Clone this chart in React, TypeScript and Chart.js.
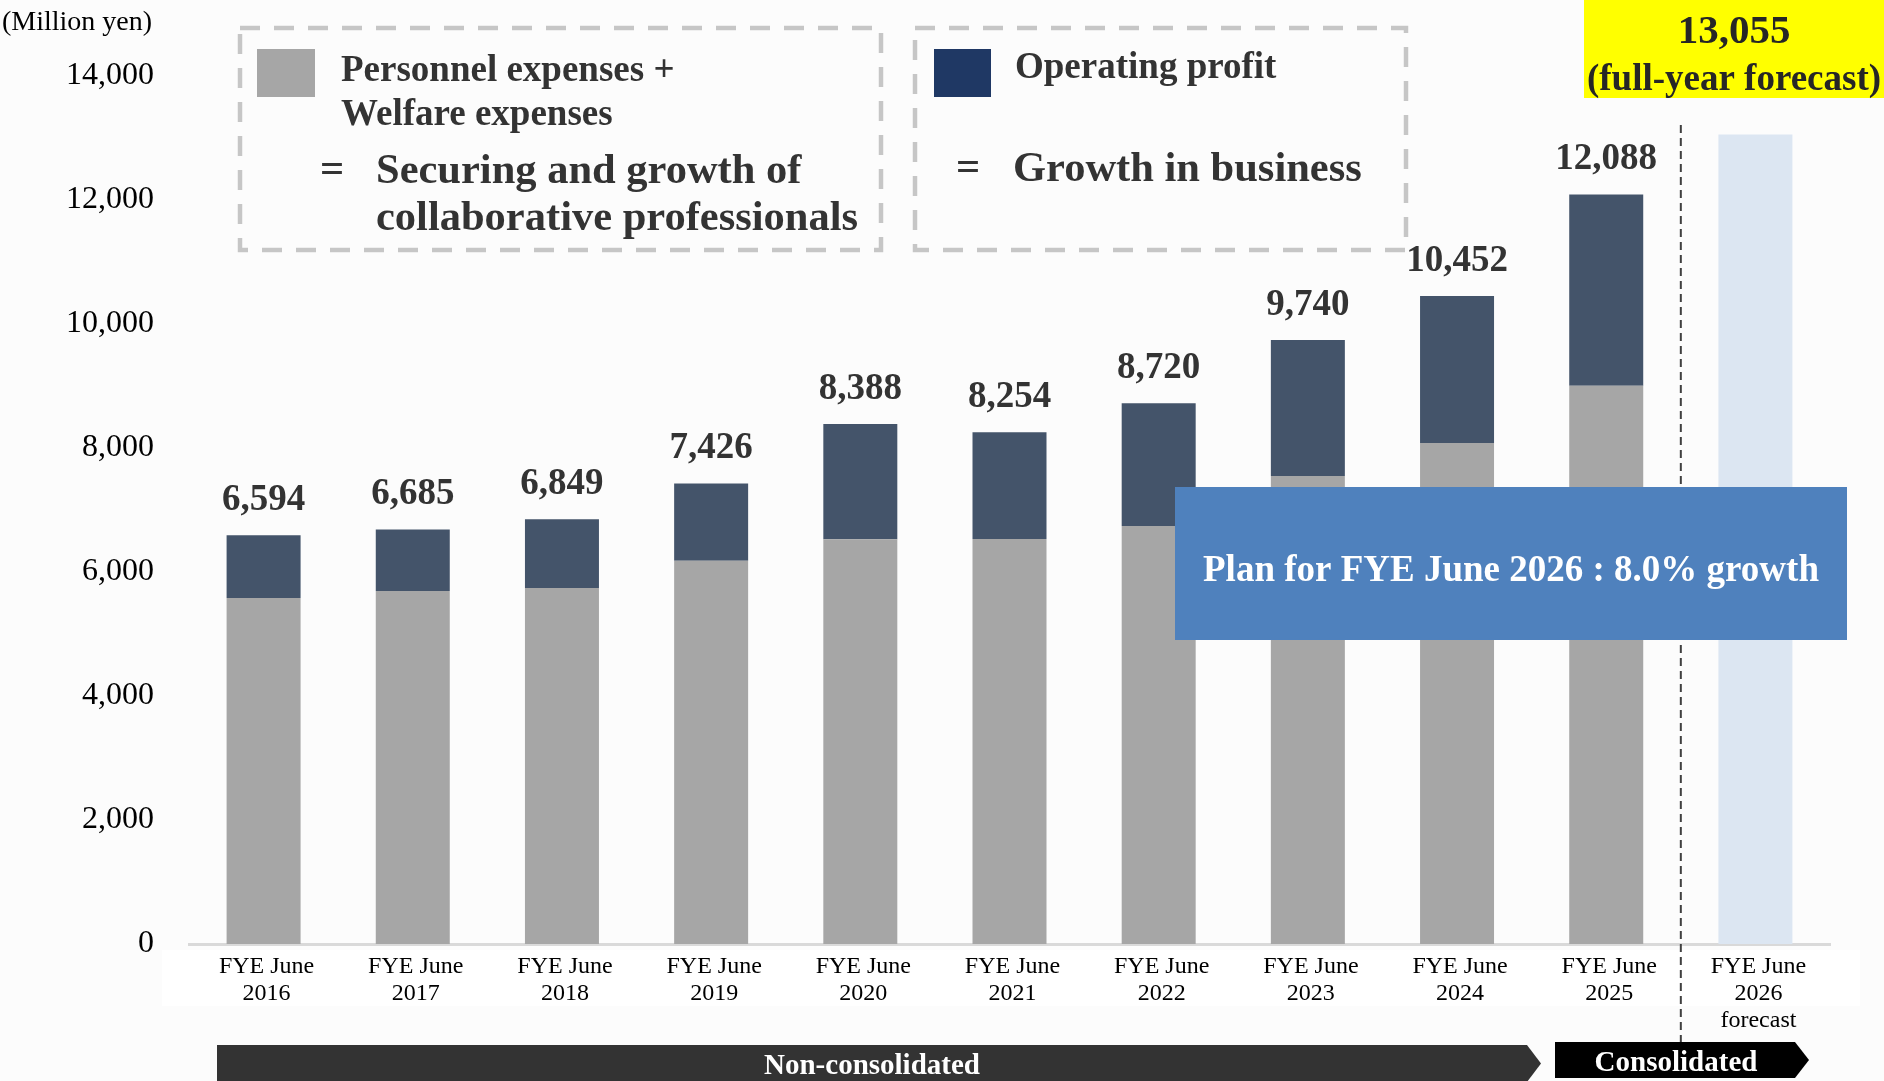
import React, { useEffect, useRef } from 'react';
import { Chart, registerables } from 'chart.js';

Chart.register(...registerables);

const FONT = "'Liberation Serif', 'Times New Roman', Times, serif";

const categories: string[][] = [
  ['FYE June', '2016'],
  ['FYE June', '2017'],
  ['FYE June', '2018'],
  ['FYE June', '2019'],
  ['FYE June', '2020'],
  ['FYE June', '2021'],
  ['FYE June', '2022'],
  ['FYE June', '2023'],
  ['FYE June', '2024'],
  ['FYE June', '2025'],
  ['FYE June', '2026', 'forecast'],
];

const personnelWelfare = [5580, 5694, 5742, 6182, 6527, 6532, 6742, 7548, 8081, 9005, null];
const operatingProfit = [1014, 991, 1107, 1244, 1861, 1722, 1978, 2192, 2371, 3083, null];
const forecastTotal = [null, null, null, null, null, null, null, null, null, null, 13055];
const totals = [6594, 6685, 6849, 7426, 8388, 8254, 8720, 9740, 10452, 12088];
const yTickValues = [0, 2000, 4000, 6000, 8000, 10000, 12000, 14000];

const forecastHeadline = '13,055';
const forecastSub = '(full-year forecast)';
const planText = 'Plan for FYE June 2026 : 8.0% growth';
const unitLabel = '(Million yen)';

const fmt = (v: number) => v.toLocaleString('en-US');

function dashedRect(ctx: CanvasRenderingContext2D, x: number, y: number, w: number, h: number) {
  ctx.save();
  ctx.strokeStyle = '#c6c6c6';
  ctx.lineWidth = 4.5;
  ctx.setLineDash([20, 14]);
  ctx.strokeRect(x, y, w, h);
  ctx.restore();
}

function arrowBox(ctx: CanvasRenderingContext2D, x0: number, x1: number, tip: number, y0: number, y1: number, fill: string) {
  ctx.save();
  ctx.fillStyle = fill;
  ctx.beginPath();
  ctx.moveTo(x0, y0);
  ctx.lineTo(x1, y0);
  ctx.lineTo(tip, (y0 + y1) / 2);
  ctx.lineTo(x1, y1);
  ctx.lineTo(x0, y1);
  ctx.closePath();
  ctx.fill();
  ctx.restore();
}

const overlayPlugin = {
  id: 'overlayPlugin',
  beforeDraw(chart: any) {
    const ctx = chart.ctx as CanvasRenderingContext2D;
    ctx.save();
    ctx.fillStyle = '#fcfcfc';
    ctx.fillRect(0, 0, chart.width, chart.height);
    ctx.fillStyle = '#ffffff';
    ctx.fillRect(162, 950, 1698, 56);
    ctx.restore();
  },
  afterDatasetsDraw(chart: any) {
    const ctx = chart.ctx as CanvasRenderingContext2D;
    const xs = chart.scales.x;
    const meta = chart.getDatasetMeta(1);
    ctx.save();
    // total labels
    ctx.fillStyle = '#333333';
    ctx.font = `bold 37px ${FONT}`;
    ctx.textAlign = 'center';
    ctx.textBaseline = 'middle';
    totals.forEach((t, i) => {
      const el = meta.data[i];
      if (!el) return;
      ctx.fillText(fmt(t), el.x, el.y - 35);
    });
    // dashed separator
    const sepX = (xs.getPixelForValue(9) + xs.getPixelForValue(10)) / 2;
    ctx.strokeStyle = '#404040';
    ctx.lineWidth = 2;
    ctx.setLineDash([8, 5]);
    ctx.beginPath();
    ctx.moveTo(sepX, 125);
    ctx.lineTo(sepX, 1042);
    ctx.stroke();
    ctx.setLineDash([]);
    // plan box
    ctx.fillStyle = '#4f81bd';
    ctx.fillRect(1175, 487, 672, 153);
    ctx.fillStyle = '#ffffff';
    ctx.font = `bold 37px ${FONT}`;
    ctx.fillText(planText, 1511, 571);
    ctx.restore();
  },
  afterDraw(chart: any) {
    const ctx = chart.ctx as CanvasRenderingContext2D;
    ctx.save();
    // unit label
    ctx.fillStyle = '#000000';
    ctx.font = `28px ${FONT}`;
    ctx.textAlign = 'left';
    ctx.textBaseline = 'middle';
    ctx.fillText(unitLabel, 2, 23);

    // legend box 1
    dashedRect(ctx, 240, 28, 641, 222);
    ctx.fillStyle = '#a6a6a6';
    ctx.fillRect(257, 49, 58, 48);
    ctx.fillStyle = '#333333';
    ctx.font = `bold 37px ${FONT}`;
    ctx.fillText('Personnel expenses +', 341, 71.5);
    ctx.fillText('Welfare expenses', 341, 115.5);
    ctx.font = `bold 42.5px ${FONT}`;
    ctx.textAlign = 'center';
    ctx.fillText('=', 332, 171);
    ctx.textAlign = 'left';
    ctx.fillText('Securing and growth of', 376, 172.5);
    ctx.fillText('collaborative professionals', 376, 219.5);

    // legend box 2
    dashedRect(ctx, 915, 28, 491, 222);
    ctx.fillStyle = '#1f3864';
    ctx.fillRect(934, 49, 57, 48);
    ctx.fillStyle = '#333333';
    ctx.font = `bold 37px ${FONT}`;
    ctx.fillText('Operating profit', 1015, 68.5);
    ctx.font = `bold 42.5px ${FONT}`;
    ctx.textAlign = 'center';
    ctx.fillText('=', 968, 169);
    ctx.textAlign = 'left';
    ctx.fillText('Growth in business', 1013, 170.5);

    // yellow forecast box
    ctx.fillStyle = '#ffff00';
    ctx.fillRect(1584, 0, 300, 98);
    ctx.fillStyle = '#262626';
    ctx.textAlign = 'center';
    ctx.font = `bold 41px ${FONT}`;
    ctx.fillText(forecastHeadline, 1734, 32.5);
    ctx.font = `bold 37px ${FONT}`;
    ctx.fillText(forecastSub, 1734, 80.5);

    // bottom arrows
    arrowBox(ctx, 217, 1527, 1541, 1045, 1082, '#333333');
    arrowBox(ctx, 1555, 1795, 1809, 1042, 1078, '#000000');
    ctx.fillStyle = '#ffffff';
    ctx.font = `bold 29px ${FONT}`;
    ctx.fillText('Non-consolidated', 872, 1067);
    ctx.fillText('Consolidated', 1676, 1063.5);
    ctx.restore();
  },
};

export default function App() {
  const canvasRef = useRef<HTMLCanvasElement | null>(null);

  useEffect(() => {
    document.body.style.margin = '0';
    document.body.style.overflow = 'hidden';
    const canvas = canvasRef.current;
    if (!canvas) return;
    const chart = new Chart(canvas, {
      type: 'bar',
      data: {
        labels: categories,
        datasets: [
          {
            label: 'Personnel expenses + Welfare expenses',
            data: personnelWelfare,
            backgroundColor: '#a6a6a6',
            barPercentage: 0.496,
            categoryPercentage: 1,
          },
          {
            label: 'Operating profit',
            data: operatingProfit,
            backgroundColor: '#44546a',
            barPercentage: 0.496,
            categoryPercentage: 1,
          },
          {
            label: 'Full-year forecast',
            data: forecastTotal,
            backgroundColor: '#dce6f2',
            barPercentage: 0.496,
            categoryPercentage: 1,
          },
        ],
      },
      options: {
        responsive: false,
        animation: false,
        events: [],
        layout: { padding: { left: 0, right: 54, top: 76, bottom: 0 } },
        plugins: {
          legend: { display: false },
          tooltip: { enabled: false },
        },
        scales: {
          x: {
            stacked: true,
            grid: { display: false, drawTicks: false },
            border: { display: true, color: '#d9d9d9', width: 3 },
            ticks: {
              color: '#000000',
              font: { family: FONT, size: 24, lineHeight: 1.13 },
              padding: 9,
              labelOffset: 3,
              maxRotation: 0,
              autoSkip: false,
            },
            afterFit: (s: any) => {
              s.height = 137;
            },
          },
          y: {
            stacked: true,
            min: 0,
            max: 14000,
            grid: { display: false, drawTicks: false },
            border: { display: false },
            afterBuildTicks: (s: any) => {
              s.ticks = yTickValues.map((v) => ({ value: v }));
            },
            ticks: {
              color: '#000000',
              font: { family: FONT, size: 32 },
              padding: 35,
              callback: (v: any) => fmt(Number(v)),
            },
            afterFit: (s: any) => {
              s.width = 189;
            },
          },
        },
      },
      plugins: [overlayPlugin],
    } as any);
    return () => chart.destroy();
  }, []);

  return (
    <div style={{ width: 1884, height: 1081, position: 'relative' }}>
      <canvas ref={canvasRef} width={1884} height={1081} style={{ display: 'block', width: 1884, height: 1081 }} />
    </div>
  );
}
